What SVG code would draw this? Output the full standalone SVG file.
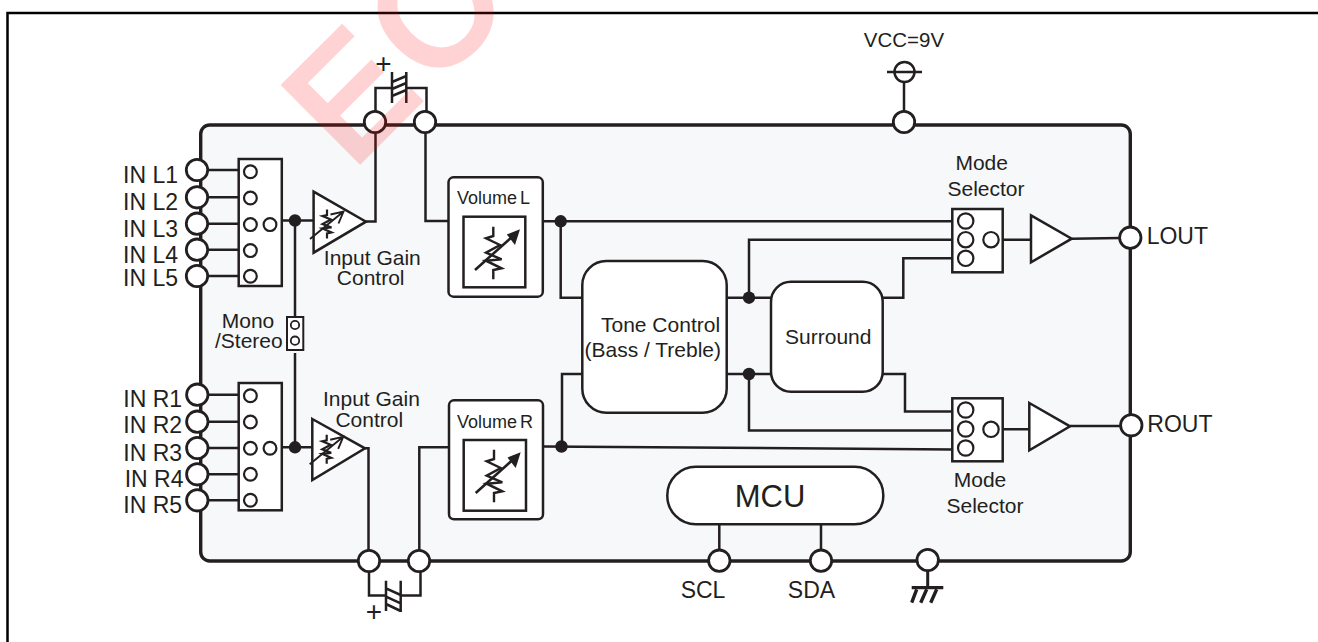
<svg xmlns="http://www.w3.org/2000/svg" xmlns:xlink="http://www.w3.org/1999/xlink" width="1318" height="642" viewBox="0 0 1318 642">
<style>
text{font-family:"Liberation Sans",Arial,sans-serif;fill:#231f20;stroke:none}
.s21{font-size:21px}.s22{font-size:23px}.s23{font-size:23px}.s18{font-size:18px}
.m{text-anchor:middle}
.w,.w *{fill:none;stroke:#231f20;stroke-width:2.5;stroke-linejoin:miter}
.b{fill:#fff;stroke:#231f20;stroke-width:2.5}
.pin{fill:#fff;stroke:#231f20;stroke-width:2.8}
.c{fill:#fff;stroke:#231f20;stroke-width:2.2}
.j{fill:#231f20;stroke:none}
</style>
<defs>
<g id="vr">
<path d="M0-26.3V-17L-7.3-14.7L6.7-8L-7.3-.3L8.3 6.3L-7.3 7.7L8.3 15.3L0 17V26.3" fill="none" stroke="#231f20" stroke-width="2.4"/>
<path d="M-18.3 17L18-15.5" fill="none" stroke="#231f20" stroke-width="2.6"/>
<path d="M26.7-23.7L13.5-18.5L21.7-8Z" fill="#231f20"/>
</g>
<g id="vrs">
<path d="M0-14.5V-9L-4.5-8L4-4.5L-4.5 0L4.5 3.5L-4.5 4.5L4.5 8.5L0 9.5V14.5" fill="none" stroke="#231f20" stroke-width="2.2"/>
<path d="M-17 15L16.5-12.5M3.5-9.5L16.5-12.5L11.5-.5" fill="none" stroke="#231f20" stroke-width="1.9"/>
</g>
</defs>

<path id="frame" d="M7.5 642V13H1318" fill="none" stroke="#000" stroke-width="2.5"/>
<rect id="chip" x="200.7" y="125" width="929.6" height="436" rx="9" fill="#f6f8fa" stroke="#231f20" stroke-width="3.4"/>

<g id="connectors" class="w">
<path d="M208 170H239M208 197.3H239M208 223.7H239M208 249.7H239M208 276H239"/>
<path d="M208 394.7H239M208 421.7H239M208 448H239M208 474.3H239M208 500.3H239"/>
<path d="M283 220.5H314M295 220.5V317M295 353V447.3M283 447.3H312.5"/>
<path d="M366 221.5H375.5V133M375.5 111V88H392M406.3 88H426.5V111"/>
<path d="M425.5 133V221H449"/>
<path d="M365 448.3H368.5V550M369 572V595.5H386M400.7 595.5H420.5V572M419.3 550V447.3H449"/>
<path d="M543 221.3H952.5M560.7 221.3V297.7H582.3"/>
<path d="M543 446.5L953 449.5M562 446.5V374H582.3"/>
<path d="M726.7 297.7H771M726.7 374H771"/>
<path d="M749 297.7V239.7H952.5M749 374V430.5H952.5"/>
<path d="M882.7 297.7H903.3V258.3H952.5M882.7 374H905V411.5H952.5"/>
<path d="M1002.7 239.7H1031M1071.7 238.7L1120 238M1002.7 429.3H1029.3M1070 426H1120"/>
<path d="M719.3 524.3V550M821 524.3V550"/>
<path d="M904 111V83"/>
</g>

<g id="junctions">
<circle class="j" cx="295" cy="220.5" r="6.2"/>
<circle class="j" cx="295" cy="447.3" r="6.2"/>
<circle class="j" cx="560.7" cy="221.3" r="6.2"/>
<circle class="j" cx="561.5" cy="446.5" r="6.2"/>
<circle class="j" cx="749" cy="297.7" r="6.2"/>
<circle class="j" cx="749" cy="374" r="6.2"/>
</g>

<g id="selector-l">
<rect class="b" x="238.7" y="159" width="43.1" height="127"/>
<circle class="c" cx="250.4" cy="171.7" r="6.4"/><circle class="c" cx="250.4" cy="198" r="6.4"/><circle class="c" cx="250.4" cy="224.6" r="6.4"/><circle class="c" cx="250.4" cy="250.6" r="6.4"/><circle class="c" cx="250.4" cy="276.3" r="6.4"/><circle class="c" cx="270" cy="224.6" r="6.4"/>
</g>
<g id="selector-r">
<rect class="b" x="238.7" y="383" width="43.1" height="127.3"/>
<circle class="c" cx="250.4" cy="395.7" r="6.4"/><circle class="c" cx="250.4" cy="422" r="6.4"/><circle class="c" cx="250.4" cy="448.3" r="6.4"/><circle class="c" cx="250.4" cy="474.3" r="6.4"/><circle class="c" cx="250.4" cy="500.3" r="6.4"/><circle class="c" cx="270" cy="448.3" r="6.4"/>
</g>

<g id="mono-stereo">
<rect class="b" style="stroke-width:2" x="287" y="317" width="16.3" height="33"/>
<circle class="c" style="stroke-width:1.8" cx="295" cy="325" r="4.2"/><circle class="c" style="stroke-width:1.8" cx="295" cy="340.7" r="4.2"/>
<text class="s21 m" x="248" y="328.3">Mono</text>
<text class="s21" x="215" y="348.3">/Stereo</text>
</g>

<g id="amp-l">
<path class="b" d="M313.6 191.7L366 221.7L313.6 252.7Z"/>
<use xlink:href="#vrs" href="#vrs" x="327" y="224"/>
<text class="s21 m" x="372.3" y="265">Input Gain</text>
<text class="s21 m" x="370.7" y="285">Control</text>
</g>
<g id="amp-r">
<path class="b" d="M312.3 419L365 448.3L312.3 480Z"/>
<use xlink:href="#vrs" href="#vrs" x="326.7" y="449.3"/>
<text class="s21 m" x="371.4" y="406">Input Gain</text>
<text class="s21 m" x="369.3" y="426.7">Control</text>
</g>

<g id="cap-top" class="w">
<path d="M392 72V103M406.3 72V103M392 82L406.3 76M392 89L406.3 83M392 96L406.3 90"/>
<text x="383.5" y="73" class="m" style="font-size:28px;stroke:none;fill:#231f20">+</text>
</g>
<g id="cap-bottom" class="w">
<path d="M386 580.7V611M400.7 580.7V612M386 588.3L400.7 595M386 596.7L400.7 603.3M386 604L400.7 611"/>
<text x="374" y="620.5" class="m" style="font-size:28px;stroke:none;fill:#231f20">+</text>
</g>

<g id="volume-l">
<rect class="b" x="448.5" y="177.3" width="94.3" height="119.4" rx="5"/>
<rect class="b" x="463.5" y="216.7" width="61.8" height="70.6" fill="none"/>
<use xlink:href="#vr" href="#vr" x="493.3" y="253"/>
<text class="s18" x="457" y="204">Volume<tspan dx="3">L</tspan></text>
</g>
<g id="volume-r">
<rect class="b" x="449" y="400.3" width="94" height="119" rx="5"/>
<rect class="b" x="463.7" y="440" width="62.3" height="70.7" fill="none"/>
<use xlink:href="#vr" href="#vr" x="494" y="476"/>
<text class="s18" x="457" y="427.7">Volume<tspan dx="3">R</tspan></text>
</g>

<g id="tone">
<rect class="b" x="582.3" y="261" width="144.4" height="151.7" rx="24"/>
<text class="s21" x="601" y="331.7">Tone Control</text>
<text class="s21" x="584.5" y="357.3">(Bass / Treble)</text>
</g>
<g id="surround">
<rect class="b" x="771" y="281.7" width="111.7" height="110" rx="20"/>
<text class="s21 m" x="828.3" y="344.3">Surround</text>
</g>

<g id="mode-l">
<rect class="b" x="952.3" y="209" width="50.4" height="63.3"/>
<circle class="c" cx="965.7" cy="221" r="7.7"/><circle class="c" cx="965.7" cy="239.7" r="7.7"/><circle class="c" cx="965.7" cy="258.3" r="7.7"/><circle class="c" cx="991" cy="239.7" r="7.7"/>
<text class="s21 m" x="981.7" y="170">Mode</text>
<text class="s21 m" x="986" y="195.7">Selector</text>
</g>
<g id="mode-r">
<rect class="b" x="952.3" y="398.3" width="50.4" height="63"/>
<circle class="c" cx="965.7" cy="410" r="7.7"/><circle class="c" cx="965.7" cy="429" r="7.7"/><circle class="c" cx="965.7" cy="448" r="7.7"/><circle class="c" cx="991" cy="429.3" r="7.7"/>
<text class="s21 m" x="980" y="486.7">Mode</text>
<text class="s21 m" x="985" y="512.7">Selector</text>
</g>
<g id="buf-l"><path class="b" d="M1031 215.3L1071.7 238.7L1031 262.3Z"/></g>
<g id="buf-r"><path class="b" d="M1029.3 403L1070 426.3L1029.3 450.3Z"/></g>

<g id="mcu">
<rect class="b" x="667.3" y="466.7" width="216" height="57.6" rx="28.5"/>
<text class="m" style="font-size:31px" x="770" y="506.7">MCU</text>
</g>

<g id="pins">
<circle class="pin" cx="197" cy="170" r="10.7"/><circle class="pin" cx="197" cy="197.3" r="10.7"/><circle class="pin" cx="197" cy="223.7" r="10.7"/><circle class="pin" cx="197" cy="249.7" r="10.7"/><circle class="pin" cx="197" cy="276" r="10.7"/>
<circle class="pin" cx="197.3" cy="394.7" r="10.7"/><circle class="pin" cx="197.3" cy="421.7" r="10.7"/><circle class="pin" cx="197.3" cy="448" r="10.7"/><circle class="pin" cx="197.3" cy="474.3" r="10.7"/><circle class="pin" cx="197.3" cy="500.3" r="10.7"/>
<circle class="pin" cx="375" cy="122" r="10.7"/><circle class="pin" cx="425" cy="122" r="10.7"/><circle class="pin" cx="904" cy="122" r="10.7"/>
<circle class="pin" cx="1130.3" cy="237.7" r="10.7"/><circle class="pin" cx="1131.3" cy="425.3" r="10.7"/>
<circle class="pin" cx="369" cy="561" r="10.7"/><circle class="pin" cx="419" cy="561" r="10.7"/>
<circle class="pin" cx="719.3" cy="560.7" r="10.7"/><circle class="pin" cx="821" cy="560.7" r="10.7"/><circle class="pin" cx="927.7" cy="560" r="10.7"/>
</g>

<g id="labels-in">
<text class="s22" x="123" y="182.7">IN L1</text><text class="s22" x="123" y="210">IN L2</text><text class="s22" x="123" y="236.7">IN L3</text><text class="s22" x="123" y="262.7">IN L4</text><text class="s22" x="123" y="286">IN L5</text>
<text class="s22" x="123.3" y="407.3">IN R1</text><text class="s22" x="123.3" y="433.3">IN R2</text><text class="s22" x="123.3" y="461">IN R3</text><text class="s22" x="124.7" y="486.7">IN R4</text><text class="s22" x="123.3" y="513.3">IN R5</text>
</g>
<g id="labels-out">
<text class="s23" x="1146.7" y="244.3">LOUT</text>
<text class="s23" x="1147.3" y="431.7">ROUT</text>
<text class="s23 m" x="703" y="597.7">SCL</text>
<text class="s23 m" x="811.5" y="597.7">SDA</text>
</g>

<g id="vcc">
<circle cx="904.5" cy="72" r="10" fill="#fff" stroke="#231f20" stroke-width="2.5"/>
<path d="M887 72H922" stroke="#231f20" stroke-width="2.5"/>
<text x="904" y="47" class="m" style="font-size:20.5px">VCC=9V</text>
</g>
<g id="gnd" fill="none" stroke="#231f20">
<path d="M927.7 571V587.7" stroke-width="3"/>
<path d="M911.7 587.7H943.3" stroke-width="3.2"/>
<path d="M916.7 589.3L911.7 602.7M926.7 589.3L920.7 602.7M936.7 589.3L930.7 602.7" stroke-width="3.4"/>
</g>

<text id="watermark" transform="translate(351.3 169.5) rotate(-45)" opacity=".17" style="font-size:155px;letter-spacing:10px;fill:#f00;stroke:#f00;stroke-width:6;stroke-linejoin:miter">EC</text>
</svg>
